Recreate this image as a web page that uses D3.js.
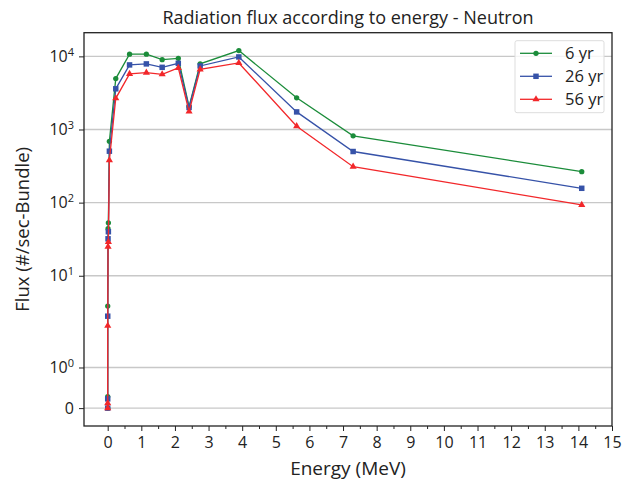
<!DOCTYPE html>
<html>
<head>
<meta charset="utf-8">
<script src="https://cdn.jsdelivr.net/npm/d3@7"></script>
<style>
  body { margin: 0; background: #fff; }
  text { font-family: "Open Sans", "DejaVu Sans", sans-serif; fill: #222; }
</style>
</head>
<body>
<div id="chart"></div>
<script>
// energies in MeV, flux per series
var energy = [0, 0.0001, 0.001, 0.01, 0.02, 0.05, 0.24, 0.65, 1.15, 1.62, 2.1, 2.42, 2.75, 3.9, 5.62, 7.3, 14.1];
var flux6  = [0, 0.285, 3.85, 44, 53, 690, 4970, 10700, 10700, 9000, 9400, 2060, 7900, 12000, 2710, 820, 265];
var flux26 = [0, 0.228, 2.8, 32, 40, 505, 3600, 7640, 7890, 7080, 8040, 2000, 7400, 9820, 1740, 500, 157];
var flux56 = [0, 0.123, 2.07, 25, 29, 380, 2670, 5750, 6000, 5690, 6950, 1760, 6650, 8130, 1110, 310, 93];
var seriesNames = ["6 yr", "26 yr", "56 yr"];
var xTicks = d3.range(0, 16);
var yTicks = [0, 1, 10, 100, 1000, 10000];

var width = 628, height = 486;
var margin = ({top: 32.7, right: 16, bottom: 60, left: 84});

// matplotlib-like symlog, linthresh 2, linscale 1, base 10
var linthresh = 2, linscale = 1 / (1 - 1 / 10);
function symT(v) {
    var a = Math.abs(v);
    if (a <= linthresh) return v * linscale;
    return Math.sign(v) * linthresh * (linscale + Math.log10(a / linthresh));
}

var allFlux = flux6.concat(flux26, flux56);
var tMax = symT(d3.max(allFlux)), tMin = symT(d3.min(allFlux));
var pad = (tMax - tMin) * 0.05;

var x = d3.scaleLinear()
    .domain([-0.05 * d3.max(energy), 15])
    .range([margin.left, width - margin.right]);

var yT = d3.scaleLinear()
    .domain([tMin - pad, tMax + pad])
    .range([height - margin.bottom, margin.top]);
var y = v => yT(symT(v));

var svg = d3.select("#chart").append("svg")
    .attr("width", width)
    .attr("height", height);

// grid
svg.append("g").selectAll("line")
    .data(yTicks)
    .enter().append("line")
        .attr("x1", margin.left).attr("x2", width - margin.right)
        .attr("y1", d => y(d)).attr("y2", d => y(d))
        .attr("stroke", "#c8c8c8")
        .attr("stroke-width", 1.4);

// axes
var yAxis = g => g
    .attr("transform", `translate(${margin.left},0)`)
    .call(d3.axisLeft(yT)
        .tickValues(yTicks.map(symT))
        .tickSize(5)
        .tickPadding(5)
        .tickFormat((d, i) => ""))
    .call(g => g.select(".domain").remove());
var gy = svg.append("g").call(yAxis);
gy.selectAll(".tick text").each(function(d, i) {
    var t = d3.select(this);
    var v = yTicks[i];
    if (v === 0) { t.text("0"); return; }
    var e = Math.round(Math.log10(v));
    t.text("10");
    t.append("tspan").attr("dy", "-0.55em").attr("font-size", "11px").text(String(e));
});
gy.selectAll("text").attr("font-size", "16px").attr("fill", "#222");

var xAxis = g => g
    .attr("transform", `translate(0,${height - margin.bottom})`)
    .call(d3.axisBottom(x).tickValues(xTicks).tickSize(5).tickPadding(6).tickFormat(d3.format("d")))
    .call(g => g.select(".domain").remove());
var gx = svg.append("g").call(xAxis);
gx.selectAll("text").attr("font-size", "16px").attr("fill", "#222");

// minor x ticks
svg.append("g")
    .attr("transform", `translate(0,${height - margin.bottom})`)
    .call(d3.axisBottom(x).tickValues(d3.range(0.5, 15, 1)).tickSize(3).tickFormat(""))
    .call(g => g.select(".domain").remove());

svg.selectAll(".tick line").attr("stroke", "#222").attr("stroke-width", 1);

// frame
svg.append("rect")
    .attr("x", margin.left).attr("y", margin.top)
    .attr("width", width - margin.left - margin.right)
    .attr("height", height - margin.top - margin.bottom)
    .attr("fill", "none")
    .attr("stroke", "#222")
    .attr("stroke-width", 1.3);

var colors = ["#1b8c3a", "#3652a8", "#f2272a"];
var symbols = [d3.symbolCircle, d3.symbolSquare, d3.symbolTriangle];
var symSizes = [22, 30, 22];
var seriesData = [flux6, flux26, flux56];

var line = d3.line()
    .x(d => x(d[0]))
    .y(d => y(d[1]));

seriesData.forEach(function(vals, k) {
    var pts = energy.map((e, i) => [e, vals[i]]);
    var g = svg.append("g");
    g.append("path")
        .datum(pts)
        .attr("d", line)
        .attr("fill", "none")
        .attr("stroke", colors[k])
        .attr("stroke-width", 1.3);
    g.selectAll("path.m")
        .data(pts)
        .enter().append("path")
            .attr("class", "m")
            .attr("transform", d => `translate(${x(d[0])},${y(d[1])})`)
            .attr("d", d3.symbol().type(symbols[k]).size(symSizes[k]))
            .attr("fill", colors[k]);
});

// title and labels
svg.append("text")
    .attr("x", (margin.left + width - margin.right) / 2)
    .attr("y", 24)
    .attr("text-anchor", "middle")
    .attr("font-size", "18px")
    .text("Radiation flux according to energy - Neutron");

svg.append("text")
    .attr("x", (margin.left + width - margin.right) / 2)
    .attr("y", 475)
    .attr("text-anchor", "middle")
    .attr("font-size", "19px")
    .text("Energy (MeV)");

svg.append("text")
    .attr("transform", `translate(29, ${(margin.top + height - margin.bottom) / 2}) rotate(-90)`)
    .attr("text-anchor", "middle")
    .attr("font-size", "18.5px")
    .text("Flux (#/sec-Bundle)");

// legend
var lg = svg.append("g").attr("transform", "translate(515,40.7)");
lg.append("rect")
    .attr("width", 89).attr("height", 72)
    .attr("rx", 2)
    .attr("fill", "#fff")
    .attr("fill-opacity", 0.8)
    .attr("stroke", "#ddd");
seriesNames.forEach(function(name, k) {
    var yy = 12.6 + k * 23;
    lg.append("line")
        .attr("x1", 5).attr("x2", 37)
        .attr("y1", yy).attr("y2", yy)
        .attr("stroke", colors[k]).attr("stroke-width", 1.3);
    lg.append("path")
        .attr("transform", `translate(21,${yy})`)
        .attr("d", d3.symbol().type(symbols[k]).size(symSizes[k]))
        .attr("fill", colors[k]);
    lg.append("text")
        .attr("x", 50).attr("y", yy + 6)
        .attr("font-size", "16.5px")
        .text(name);
});
</script>
</body>
</html>
